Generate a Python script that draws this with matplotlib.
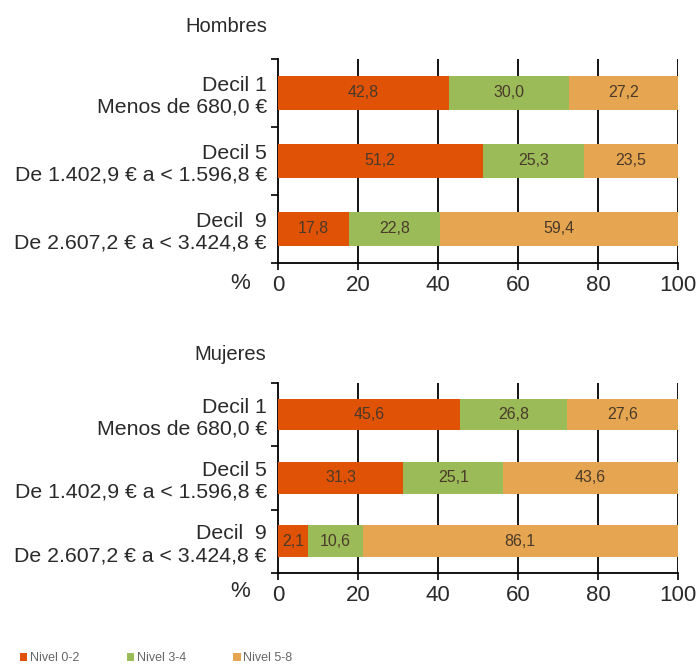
import matplotlib
matplotlib.use("Agg")
import matplotlib.pyplot as plt
import numpy as np
from matplotlib.patches import Patch

plt.rcParams['font.family'] = ['Liberation Sans', 'DejaVu Sans']

categories = ["Decil 1\nMenos de 680,0 €",
              "Decil 5\nDe 1.402,9 € a < 1.596,8 €",
              "Decil  9\nDe 2.607,2 € a < 3.424,8 €"]
series = ["Nivel 0-2", "Nivel 3-4", "Nivel 5-8"]
colors = ["#E05206", "#9BBB59", "#E6A550"]

# Hombres: values (widths as drawn) and labels
hombres_n02 = [42.8, 51.2, 17.8]
hombres_n34 = [30.0, 25.3, 22.8]
hombres_n58 = [27.2, 23.5, 59.4]
hombres_labels = [["42,8", "51,2", "17,8"],
                  ["30,0", "25,3", "22,8"],
                  ["27,2", "23,5", "59,4"]]

# Mujeres: widths as drawn in the picture (Decil 9 first segment drawn wider than its label)
mujeres_n02 = [45.6, 31.3, 7.5]
mujeres_n34 = [26.8, 25.1, 13.7]
mujeres_n58 = [27.6, 43.6, 78.8]
mujeres_labels = [["45,6", "31,3", "2,1"],
                  ["26,8", "25,1", "10,6"],
                  ["27,6", "43,6", "86,1"]]

xticks = [0, 20, 40, 60, 80, 100]

fig = plt.figure(figsize=(7, 6.7), dpi=100)

def draw(ax, vals, labels, title, title_xy):
    y = np.arange(len(categories))
    left = np.zeros(len(categories))
    for k, (v, c) in enumerate(zip(vals, colors)):
        v = np.array(v)
        ax.barh(y, v, left=left, height=0.5, color=c, zorder=3)
        for i in range(len(y)):
            xc = left[i] + v[i] / 2
            ax.text(xc, y[i], labels[k][i], ha='center', va='center',
                    fontsize=11.5, color='#4a3a2a', zorder=4)
        left = left + v
    ax.set_xlim(0, 100)
    ax.set_ylim(2.5, -0.5)
    ax.set_xticks(xticks)
    ax.set_xticklabels([str(t) for t in xticks], fontsize=16, color='#2a2a2a')
    ax.set_yticks([-0.5, 0.5, 1.5, 2.5])
    ax.set_yticklabels([])
    ax.set_yticks(y, minor=True)
    ax.set_yticklabels(categories, minor=True, fontsize=15.3, color='#2a2a2a', ha='right')
    ax.tick_params(axis='y', which='minor', length=0, pad=8)
    ax.tick_params(axis='y', which='major', length=5, width=1.2, direction='out')
    ax.tick_params(axis='x', length=5, width=1.2, direction='out', pad=4)
    for s in ['top', 'right']:
        ax.spines[s].set_visible(False)
    for s in ['left', 'bottom']:
        ax.spines[s].set_linewidth(1.3)
    for t in xticks[1:]:
        ax.axvline(t, color='black', lw=1.3, zorder=1)
    ax.text(-0.095, -0.1, "%", transform=ax.transAxes, ha='center', va='center',
            fontsize=16, color='#2a2a2a')
    fig.text(title_xy[0], title_xy[1], title, ha='center', va='center',
             fontsize=14.5, color='#2a2a2a')

ax1 = fig.add_axes([0.397, 0.6075, 0.5714, 0.3045])
draw(ax1, [hombres_n02, hombres_n34, hombres_n58], hombres_labels, "Hombres",
     (226 / 700, 1 - 27 / 670))
ax2 = fig.add_axes([0.397, 0.1448, 0.5714, 0.2836])
draw(ax2, [mujeres_n02, mujeres_n34, mujeres_n58], mujeres_labels, "Mujeres",
     (230 / 700, 1 - 355 / 670))

handles = [Patch(facecolor=c, edgecolor='none') for c in colors]
fig.legend(handles, series, loc='center left', bbox_to_anchor=(0.012, 1 - 658 / 670),
           ncol=3, frameon=False, fontsize=9, labelcolor='#666666',
           handlelength=0.6, handleheight=0.6, handletextpad=0.2, columnspacing=3.8)

fig.savefig("out.png", dpi=100)
